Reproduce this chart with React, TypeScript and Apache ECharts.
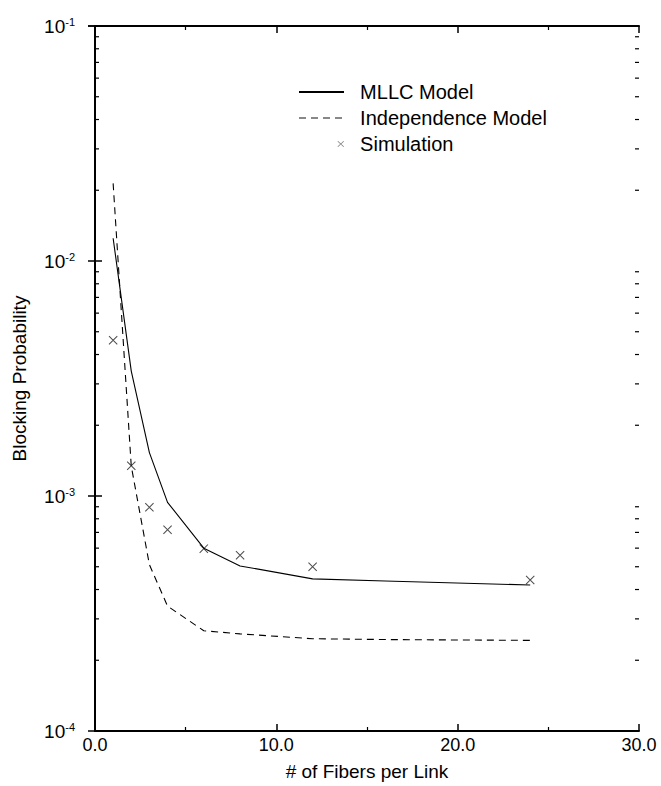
import React, { useEffect, useRef } from "react";
import * as echarts from "echarts";

const fibers = [1, 2, 3, 4, 6, 8, 12, 16, 24];
const mllcModel = [1.25e-2, 3.4e-3, 1.53e-3, 9.4e-4, 6.0e-4, 5.04e-4, 4.44e-4, 4.35e-4, 4.18e-4];
const independenceModel = [2.14e-2, 1.34e-3, 5.1e-4, 3.4e-4, 2.67e-4, 2.59e-4, 2.47e-4, 2.45e-4, 2.43e-4];
const simFibers = [1, 2, 3, 4, 6, 8, 12, 24];
const simulation = [4.6e-3, 1.345e-3, 8.95e-4, 7.19e-4, 5.97e-4, 5.6e-4, 5.0e-4, 4.39e-4];
const seriesNames = ["MLLC Model", "Independence Model", "Simulation"];
const xTicks = [0, 10, 20, 30];
const yDecades = [-4, -3, -2, -1];

const FONT = "Liberation Sans";

const minorVals: number[] = [];
for (let d = -4; d < -1; d++) {
  for (let m = 2; m <= 9; m++) minorVals.push(m * Math.pow(10, d));
}

const crossPath = "path://M0,0.8L0.8,0L10,9.2L9.2,10Z M9.2,0L10,0.8L0.8,10L0,9.2Z";
const legendCross =
  "path://M0,0L0,0L0,0Z M0,14L0,14L0,14Z M38.5,4.5L39,4L45,9.5L44.5,10Z M44.5,4L45,4.5L39,10L38.5,9.5Z";

export default function App() {
  const ref = useRef<HTMLDivElement>(null);
  useEffect(() => {
    if (!ref.current) return;
    const chart = echarts.init(ref.current, null, { renderer: "svg" });
    const axisLine = { show: true, lineStyle: { color: "#000", width: 2 } };
    const tick = { show: true, inside: true, length: 7, lineStyle: { color: "#000", width: 1.5 } };
    const option: any = {
      animation: false,
      backgroundColor: "#fff",
      grid: { left: 95, right: 22, top: 26, bottom: 52 },
      legend: {
        orient: "vertical",
        left: 298,
        top: 82,
        padding: 0,
        itemWidth: 45,
        itemHeight: 14,
        itemGap: 6,
        formatter: (name: string) => "  " + name,
        textStyle: { fontFamily: FONT, fontSize: 20, color: "#000" },
        data: [
          { name: seriesNames[0], itemStyle: { opacity: 0 } },
          { name: seriesNames[1], lineStyle: { color: "#888" }, itemStyle: { opacity: 0 } },
          { name: seriesNames[2], icon: legendCross, itemStyle: { color: "#555" } },
        ],
      },
      xAxis: [
        {
          type: "value",
          min: 0,
          max: 30,
          interval: 10,
          position: "bottom",
          name: "# of Fibers per Link",
          nameLocation: "middle",
          nameGap: 31,
          nameTextStyle: { fontFamily: FONT, fontSize: 19, color: "#000" },
          axisLine,
          axisTick: tick,
          minorTick: { show: true, splitNumber: 2, length: 4, lineStyle: { color: "#000", width: 1.2 } },
          splitLine: { show: false },
          axisLabel: {
            fontFamily: FONT,
            fontSize: 18,
            color: "#000",
            margin: 5,
            formatter: (v: number) => (xTicks.includes(v) ? v.toFixed(1) : ""),
          },
        },
        {
          type: "value",
          min: 0,
          max: 30,
          interval: 10,
          position: "top",
          axisLine,
          axisTick: tick,
          minorTick: { show: true, splitNumber: 2, length: 4, lineStyle: { color: "#000", width: 1.2 } },
          splitLine: { show: false },
          axisLabel: { show: false },
        },
      ],
      yAxis: [
        {
          type: "log",
          logBase: 10,
          min: 1e-4,
          max: 1e-1,
          position: "left",
          name: "Blocking Probability",
          nameLocation: "middle",
          nameGap: 66,
          nameTextStyle: { fontFamily: FONT, fontSize: 19, color: "#000" },
          axisLine,
          axisTick: tick,
          splitLine: { show: false },
          axisLabel: {
            margin: 20,
            formatter: (v: number) => {
              const e = Math.round(Math.log10(v));
              return yDecades.includes(e) ? "{b|10}{s|" + e + "}" : "";
            },
            rich: {
              b: { fontFamily: FONT, fontSize: 19, color: "#000" },
              s: { fontFamily: FONT, fontSize: 11, color: "#000", verticalAlign: "top" },
            },
          },
        },
        {
          type: "log",
          logBase: 10,
          min: 1e-4,
          max: 1e-1,
          position: "right",
          axisLine,
          axisTick: tick,
          splitLine: { show: false },
          axisLabel: { show: false },
        },
      ],
      series: [
        {
          name: seriesNames[0],
          type: "line",
          data: fibers.map((x, i) => [x, mllcModel[i]]),
          symbol: "none",
          lineStyle: { color: "#000", width: 1.1 },
          itemStyle: { color: "#000" },
        },
        {
          name: seriesNames[1],
          type: "line",
          data: fibers.map((x, i) => [x, independenceModel[i]]),
          symbol: "none",
          lineStyle: { color: "#000", width: 1.1, type: [7, 5] },
          itemStyle: { color: "#000" },
        },
        {
          name: seriesNames[2],
          type: "scatter",
          data: simFibers.map((x, i) => [x, simulation[i]]),
          symbol: crossPath,
          symbolSize: 9,
          itemStyle: { color: "#222" },
        },
        {
          name: "minorTicks",
          type: "custom",
          silent: true,
          clip: false,
          data: minorVals.map((v) => [0, v]),
          encode: { x: 0, y: 1 },
          renderItem: (params: any, api: any) => {
            const v = api.value(1);
            const l = api.coord([0, v]);
            const r = api.coord([30, v]);
            return {
              type: "group",
              children: [
                { type: "line", shape: { x1: l[0], y1: l[1], x2: l[0] + 4, y2: l[1] }, style: { stroke: "#000", lineWidth: 1.2 } },
                { type: "line", shape: { x1: r[0] - 4, y1: r[1], x2: r[0], y2: r[1] }, style: { stroke: "#000", lineWidth: 1.2 } },
              ],
            };
          },
        },
      ],
    };
    chart.setOption(option);
    return () => chart.dispose();
  }, []);
  return (
    <div
      ref={ref}
      style={{ position: "fixed", left: 0, top: 0, width: 661, height: 786, background: "#fff" }}
    />
  );
}
